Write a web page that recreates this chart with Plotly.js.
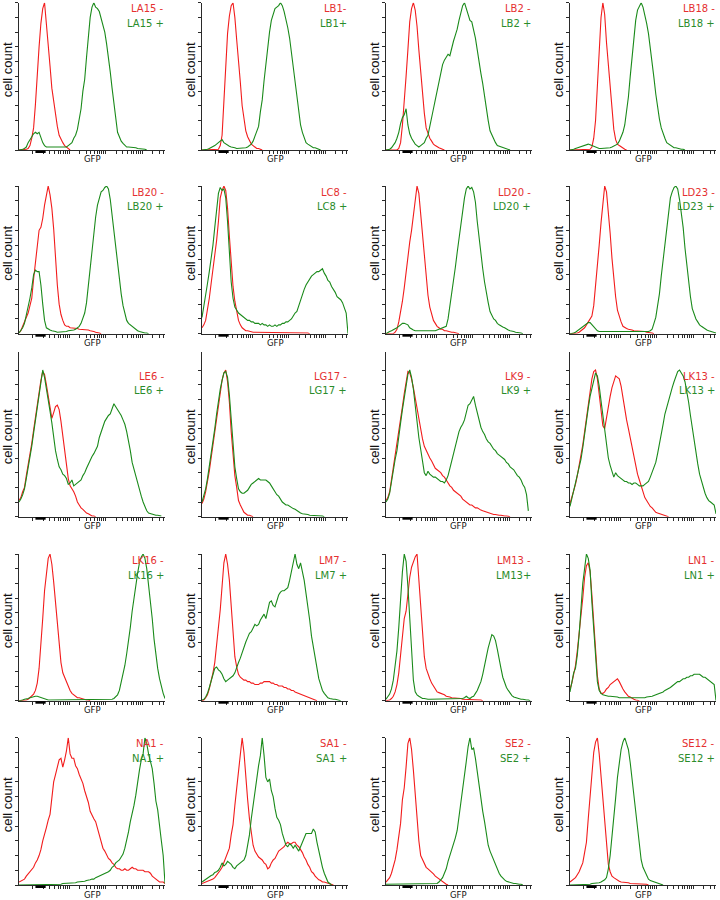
<!DOCTYPE html>
<html><head><meta charset="utf-8">
<script src="https://cdn.plot.ly/plotly-3.0.1.min.js"></script>
<style>html,body{margin:0;padding:0;background:#fff}#chart{width:720px;height:900px}</style>
</head><body><div id="chart"></div>
<script>
// GFP channel positions (decades on the log scale, 0..4)
const X = [0,0.05,0.1,0.15,0.2,0.25,0.3,0.35,0.4,0.45,0.5,0.55,0.6,0.65,0.7,0.75,0.8,0.85,0.9,0.95,1,1.05,1.1,1.15,1.2,1.25,1.3,1.35,1.4,1.45,1.5,1.55,1.6,1.65,1.7,1.75,1.8,1.85,1.9,1.95,2,2.05,2.1,2.15,2.2,2.25,2.3,2.35,2.4,2.45,2.5,2.55,2.6,2.65,2.7,2.75,2.8,2.85,2.9,2.95,3,3.05,3.1,3.15,3.2,3.25,3.3,3.35,3.4,3.45,3.5,3.55,3.6,3.65,3.7,3.75,3.8,3.85,3.9,3.95,4];

const negLabels = ['LA15 -','LB1-','LB2 -','LB18 -','LB20 -','LC8 -','LD20 -','LD23 -','LE6 -','LG17 -','LK9 -','LK13 -','LK16 -','LM7 -','LM13 -','LN1 -','NA1 -','SA1 -','SE2 -','SE12 -'];
const posLabels = ['LA15 +','LB1+','LB2 +','LB18 +','LB20 +','LC8 +','LD20 +','LD23 +','LE6 +','LG17 +','LK9 +','LK13 +','LK16 +','LM7 +','LM13+','LN1 +','NA1 +','SA1 +','SE2 +','SE12 +'];

const yTicks = [0,10,20,30,40,50,60,70,80,90,100];
const xTicks = [0.37,0.671,0.847,0.972,1.069,1.148,1.215,1.273,1.324,
                1.37,1.671,1.847,1.972,2.069,2.148,2.215,2.273,2.324,
                2.37,2.671,2.847,2.972,3.069,3.148,3.215,3.273,3.324,
                3.37,3.671,3.847,3.972];
const gateBar = [0.45, 0.73];

// cell counts (% of max), one value per channel position
const la15Neg = [0,0,0,0,0.5,1,3,8,15,31,53,70,86,96,100,87,71,57,42,32,23,16,10,7,5,3,2,1,0];
const la15Pos = [0,0,0.5,1,2,5,7,9,11,12,11,12,8,5,3,2,2,2,1.5,2,2,1.5,1.5,1.5,2,2,2,3,4,5,8,10,14,22,28,40,48,63,77,90,97,100,97,96,94,89,85,80,72,64,53,42,31,20,12,9,6,4.5,3,2,2,2,2,1.5,1.5,1,1,1,0.5,0.5,0];
const lb1Neg = [0,0,0,0,0,0,0,0,0,0.5,3,10,33,58,79,91,98,100,90,75,62,46,30,20,13,9,6,4,3,2,1,1,0.5,0];
const lb1Pos = [0,0,0,0.5,1,1.5,2,3,4,5,6,7,5,4,3,2.5,2,2,1.5,1,1,1,1,1,1.5,2,3,4,6,9,12,16,26,34,47,59,72,80,88,93,96,97,98,100,98,94,89,83,76,66,56,45,34,25,17,12,8,5,4,3,2,1.5,1.5,1,0.5,0];
const lb2Neg = [0,0,0,0,0,0,0,1,5,17,31,50,68,87,96,100,95,84,68,52,38,25,15,11,8,6,4,3,2,1.5,1,0.5,0];
const lb2Pos = [0,0,0.5,1.5,3,5,8,12,18,22,24,28,17,11,8,6,4,3,2,3,4,5,8,10,16,21,28,34,40,47,53,58,61,63,65,64,70,74,78,82,88,93,98,100,96,92,88,87,82,76,68,59,52,45,36,27,20,13,10,7,5,3,2.5,2,1.5,1,1,0.5,0];
const lb18Neg = [0,0,0,0,0,0,0,0,0,0,0,0.5,2,8,20,42,65,90,100,92,73,57,40,25,14,7,4,3,2,1,0.5,0];
const lb18Pos = [0,0,0.5,1,1.5,2,2,3,3.5,4,4,3.5,3,2,1.5,1,1,1,1,1,1,1,1.5,2,2.5,3,4,6,9,12,17,25,36,50,64,77,88,95,98,100,97,92,86,79,70,59,49,38,29,21,15,11,8,5,4,3,2,1.5,1.5,1,1,0.5,0.5,0];
const lb20Neg = [0.5,2,5,8,11,14,19,24,37,49,62,70,72,78,87,93,100,94,85,71,49,33,20,13,9,6,5,5,4,4,4,3.5,3.5,3,3,3,3,3,2.5,2,2,1.5,1,1,0.5,0];
const lb20Pos = [0.5,2,4,7,12,17,24,31,40,43,42,42,33,20,9,4,3,2.5,2,2,1.5,1,1,1,1,1.5,1.5,2,2,2,2.5,3,4,5,7,10,14,21,33,46,58,69,79,87,92,96,97,99,100,98,91,80,70,58,45,36,27,19,13,9,7,6,5,3.5,2.5,2,1.5,1,1,0.5,0.5,0];
const lc8Neg = [4,6,9,16,24,34,43,53,63,76,92,97,100,97,85,66,45,32,22,14,9,6,4,3,2,2,1.5,1.5,1,1,1,1,1,1,1,1,1,0.5,0.5,0.5,0.5,0.5,0.5,0.5,0.5,0.5,0.5,0.5,0.5,0.5,0.5,0.5,0.5,0.5,0.5,0.5,0.5,0.5,0.5,0];
const lc8Pos = [11,18,27,34,42,50,60,72,82,95,99,97,98,92,76,55,35,24,18,16,14,13,12,11,10,9,9,8,8,7,7,7,6,7,6,6,5,6,5,5,6,5,6,6,7,7,8,8,9,10,12,14,15,19,23,27,30,33,35,37,39,40,41,42,42,43,44,41,39,36,35,32,30,28,25,24,23,21,17,14,0];
const ld20Neg = [0,0,0,0,0,1,3,8,14,22,31,42,52,62,70,80,90,100,95,82,67,52,38,26,18,13,9,7,5,4,3,3,2,2,1.5,1.5,1,1,0.5,0.5,0];
const ld20Pos = [0,1,1.5,2,2.5,3,4,5,6,7,7,6.5,6,4,3,2.5,2,2,1.5,1.5,1.5,1.5,2,2,2,2,2,2,2.5,3,3,3.5,4,5,10,18,26,35,45,55,64,74,85,92,98,100,98,99,96,89,76,64,54,44,35,27,21,15,12,10,9,7,6,5,4.5,4,3,2.5,2,2,1.5,1,1,0.5,0.5,0];
const ld23Neg = [0,0,0,0,0.5,1,2,3,4,6,8,10,12,19,31,45,60,75,88,100,96,84,68,51,37,25,16,11,8,5,4,3.5,3,3,2.5,2,2,2,1.5,1.5,1.5,1.5,1,1,0.5,0.5,0];
const ld23Pos = [0,0,0.5,1,2,2.5,3.5,4.5,6,7,7.5,7.5,6,4.5,3,2,1.5,1.5,1,1,1,1,1,1,1,1,1,1,1,1,1,1,1,1,1,1,1,1,1,1,1,1,1,1.5,2,3,7,11,19,27,39,49,62,72,83,92,96,99,100,98,91,82,72,58,46,34,25,17,13,10,8,6,5,4,3,2.5,2,1.5,1,0.5,0.5];
const le6Neg = [11,13,17,20,28,35,42,50,59,68,77,86,93,99,97,90,82,73,67,71,75,76,73,65,55,46,34,26,21,19,17,14,10,8,6,5,3.5,2.5,2,1,0.5,0.5,0];
const le6Pos = [10,12,15,19,26,33,40,48,57,66,75,84,94,100,95,88,80,72,64,54,45,39,34,32,29,28,26,22,23,25,21,22,23,24,25,28,30,33,36,39,41,43,46,48,54,58,62,65,67,69,70,73,77,75,73,71,69,66,63,58,52,45,37,32,27,22,18,14,10,7,4,2.5,2,1.5,1.5,1,1,0.5,0.5];
const lg17Neg = [9,12,17,23,31,40,49,58,68,78,86,93,98,100,92,78,58,42,28,20,11,8,5,3,2,1,1,0.5,0];
const lg17Pos = [10,14,19,26,34,42,51,60,70,79,87,93,98,99,95,83,65,48,34,26,19,17,16,16,17,18,20,22,23,24,25,26,25,25,25,25,24,23,21,19,17,15,14,12,10,9,8,8,7,6,5.5,5,4,3,2.5,2,2,1.5,1.5,1,1,1,0.5,0.5,0.5,0.5,0.5,0];
const lk9Neg = [11,13,17,25,35,42,49,56,65,75,84,93,99,98,94,88,81,72,65,58,53,48,45,43,40,38,35,33,32,31,30,28,27,25,23,21,20,18,17,16,15,14,12,11,10,9,8,8,7,6,6,5,4.5,4,3.5,3,2.5,2,2,1.5,1.5,1,1,1,0.5,0.5,0.5,0.5,0];
const lk9Pos = [10,12,16,24,33,39,45,53,64,73,82,91,97,100,95,87,75,65,54,46,39,30,28,31,29,28,27,27,26,25,24,24,23,25,28,33,38,43,48,54,58,61,63,66,72,76,77,80,82,76,71,65,61,58,56,53,51,50,48,46,45,43,42,41,40,39,37,36,34,33,32,30,28,27,25,22,20,15,4];
const lk13Neg = [9,13,18,22,28,34,42,49,58,67,78,88,94,99,100,94,84,72,62,60,68,75,82,88,93,96,95,94,89,81,72,66,60,54,47,41,34,29,25,21,18,13,11,9,7,6,4.5,3,2.5,2,2,1.5,1,0.5,0];
const lk13Pos = [7,12,18,22,27,32,39,47,57,66,74,82,88,94,98,96,89,79,69,59,48,40,35,31,27,30,28,27,26,25,24,24,23,23,22,23,23,22,21,21,21,22,23,24,27,30,33,37,43,49,56,63,70,75,80,84,88,92,96,99,100,98,96,92,86,78,69,60,52,43,36,29,24,20,16,13,11,10,9,8,2];
const lk16Neg = [0,0,0,0,0.5,1,2,3,4.5,7,12,22,37,56,75,88,97,100,93,81,67,51,37,26,19,16,12,10,7,5,4,3,2,2,1.5,1,0.5,0.5,0.5,0];
const lk16Pos = [0,0,0.5,1,1,1.5,2,2.5,3,3,3,2.5,2,1.5,1,1,0.5,0.5,0.5,0.5,0.5,0.5,0.5,0.5,0.5,0.5,0.5,0.5,0.5,0.5,0.5,0.5,0.5,0.5,0.5,0.5,0.5,0.5,0.5,0.5,0.5,0.5,0.5,0.5,0.5,0.5,0.5,0.5,0.5,0.5,1,1,1.5,2.5,4,7,12,18,24,32,40,50,61,70,80,87,94,98,100,97,90,80,68,56,42,31,22,15,9,5,1.5];
const lm7Neg = [0,0.5,2,4,8,13,19,26,37,48,62,78,94,100,93,82,63,46,30,23,18,16,15,14,14,13,13,12,12,11,11,11,12,12,13,13,13,13,12,12,11,11,10,10,10,9,9,8,8,7,7,6,5.5,5,4.5,4,3,2.5,2,1.5,1,0.5,0.5,0];
const lm7Pos = [0.5,1,2.5,5,9,13,18,22,23,21,20,18,15,13,14,15,16,17,19,23,26,29,33,37,40,43,46,47,50,52,51,52,55,57,59,56,62,67,68,65,64,68,72,74,75,75,76,77,82,88,92,100,93,90,94,88,82,73,65,55,44,36,28,20,15,11,7,5,3.5,2,1.5,1,1,1,0.5,0.5,0];
const lm13Neg = [0,0,0.5,1.5,3,6,11,19,31,43,56,61,74,84,91,95,98,100,82,62,44,30,22,18,15,12,10,8,6,5.5,5,5,4,3,3,2.5,2,2,2,1.5,1.5,1.5,1,1,1,1,1,1,1,0.5,0.5,0.5,0.5,0];
const lm13Pos = [1,2.5,4.5,8,14,24,34,50,73,88,100,95,78,57,30,14,6,4,3,2,1.5,1.5,1,1,1,1,1,1,1,1,1,1,1,1,1,1,1,1,1.5,1.5,1.5,1.5,1.5,2,3,2,1.5,2.5,3,5,7,10,13,18,23,30,36,41,45,44,41,35,27,22,16,12,9,7,5,3.5,2.5,2,1.5,1.5,1,1,0.5,0.5,0.5,0];
const ln1Neg = [8,12,18,24,34,45,58,70,84,92,94,88,72,52,33,17,8,5,5,6,8,9,11,12,13,14,15,13,10,8,6,4.5,3,2.5,1.5,1,0.5,0.5,0];
const ln1Pos = [6,12,19,22,31,45,65,80,90,100,97,89,67,47,27,13,7,5,4,3.5,3,3,3,3,2.5,2.5,2.5,2,2,2,2,2,1.5,1.5,1.5,1.5,1.5,1.5,1.5,2,2,2,2.5,2.5,3,3,3.5,4,4,4.5,5,6,7,7.5,8,9,10,11,12,13,13,14,15,15,16,16,17,17,18,18,18,18,17,16,16,15,14,13,12,11,0];
const na1Neg = [2,2.5,3,4,6,7.5,9,11,12,15,17,20,24,30,34,39,44,48,59,70,75,80,85,86,80,85,91,100,89,86,86,81,79,75,72,69,64,60,56,50,47,45,43,38,34,28,25,23,20,18,17,15,14,12,11,11,10,10,11,10,10,11,12,11,11,10,10,10,10,9,9,9,8,6,5,4,3,2,2,2,1];
const na1Pos = [0,0,0,0,0,0,0,0,0,0,0,0,0,0,0,0,0,0,0.5,0.5,0.5,0.5,0.5,0.5,1,1,1,1,1.5,1.5,1.5,1.5,2,2,2,2.5,2.5,3,3,3.5,4,4,5,5.5,6,6.5,7,7.5,8,9,10,12,13,15,16,17,19,21,25,30,36,43,48,54,61,71,78,85,89,100,96,89,83,79,69,57,51,42,30,20,1];
const sa1Neg = [1,1.5,2,2,2.5,3,4,5,6.5,8,10,12,15,18,21,25,34,41,54,66,78,89,100,90,72,58,45,34,27,23,21,19,18,17,15,14,11,12,15,17,18,21,23,24,25,26,28,29,28,28,29,29,27,26,24,22,19,17,14,12,9,8,6,4.5,3.5,3,2,2,1.5,1,0.5,0.5,0];
const sa1Pos = [2,3,4,4.5,6,6.5,7,8.5,9,10,12,15,13,14,16,15,14,12,11,13,14,15,16,17,20,26,34,45,54,65,75,81,88,100,88,73,70,72,64,60,52,46,44,41,35,30,27,26,28,27,25,27,25,23,26,29,33,35,35,35,35,38,36,29,23,16,12,8,4.5,2,1,0];
const se2Neg = [2,3.5,5,8,12,17,24,32,42,58,66,80,96,100,92,78,61,42,30,20,17,14,12,11,10,9,7.5,6,5,4,3,2,1,0.5,0];
const se2Pos = [0.5,0.5,0.5,0.5,0.5,0.5,0.5,0.5,0.5,0.5,0.5,0.5,0.5,0.5,0.5,0.5,0.5,0.5,0.5,0.5,0.5,0.5,0.5,0.5,0.5,0.5,0.5,0.5,1,2,3.5,5,8,11,16,20,23,27,32,37,46,54,64,72,84,94,100,92,93,86,77,66,59,50,43,36,27,23,20,16,13,11,8,6,4.5,3.5,2.5,2,2,1.5,1,1,0.5,0.5,0.5,0];
const se12Neg = [2,3,4,5,7,9,12,15,22,29,45,62,78,90,97,100,89,74,57,40,25,14,9,6,5,4,3,2.5,2,2,1.5,1.5,1.5,1,1,1,0.5,0.5,0.5,0.5,0.5,0.5,0.5,0];
const se12Pos = [0,0,0,0,0,0,0,0,0,0,0.5,0.5,1,1,1,1,1.5,2,2.5,3.5,5,11,20,32,45,59,73,84,92,97,100,96,92,83,72,60,48,37,26,17,12,9,6,4,3,2.5,2,1.5,1,0.5,0.5,0];

const panelData = [
  [la15Neg, la15Pos],[lb1Neg, lb1Pos],[lb2Neg, lb2Pos],[lb18Neg, lb18Pos],
  [lb20Neg, lb20Pos],[lc8Neg, lc8Pos],[ld20Neg, ld20Pos],[ld23Neg, ld23Pos],
  [le6Neg, le6Pos],[lg17Neg, lg17Pos],[lk9Neg, lk9Pos],[lk13Neg, lk13Pos],
  [lk16Neg, lk16Pos],[lm7Neg, lm7Pos],[lm13Neg, lm13Pos],[ln1Neg, ln1Pos],
  [na1Neg, na1Pos],[sa1Neg, sa1Pos],[se2Neg, se2Pos],[se12Neg, se12Pos]
];

// layout geometry (pixels)
const W = 720, H = 900;
const colLeft = [19, 202, 386, 570], colRight = [165, 348, 532, 716];
const rowTop = [2.7, 186, 370, 554, 737.7], rowBottom = [150, 333.7, 516.7, 700.7, 885];
const rowAxisTop = [2.7, 186, 352, 554, 737.7];
const RED = '#f21c1c', GREEN = '#1a8a1a', AXIS = '#2a2a2a';
const RED_TXT = '#e53030', GREEN_TXT = '#2a8c2a';

const traces = [], shapes = [], annotations = [];
const layout = {
  width: W, height: H, margin: {l:0, r:0, t:0, b:0},
  paper_bgcolor: '#fff', plot_bgcolor: 'rgba(0,0,0,0)', showlegend: false
};
const px = v => v / W, py = v => 1 - v / H;

for (let i = 0; i < panelData.length; i++) {
  const r = Math.floor(i / 4), c = i % 4, n = i + 1;
  const sfx = n === 1 ? '' : String(n);
  const xa = 'x' + sfx, ya = 'y' + sfx;
  const yMax = 100 * (rowBottom[r] - rowAxisTop[r]) / (rowBottom[r] - rowTop[r]);
  layout['xaxis' + sfx] = {
    domain: [px(colLeft[c]), px(colRight[c])], range: [0, 4], anchor: ya,
    showline: true, linecolor: AXIS, linewidth: 1, mirror: false,
    ticks: 'outside', ticklen: 3, tickwidth: 1, tickcolor: AXIS,
    tickmode: 'array', tickvals: xTicks, showticklabels: false,
    showgrid: false, zeroline: false, fixedrange: true
  };
  layout['yaxis' + sfx] = {
    domain: [py(rowBottom[r]), py(rowAxisTop[r])], range: [0, yMax], anchor: xa,
    showline: true, linecolor: AXIS, linewidth: 1,
    ticks: 'outside', ticklen: 3, tickwidth: 1, tickcolor: AXIS,
    tickmode: 'array', tickvals: yTicks, showticklabels: false,
    showgrid: false, zeroline: false, fixedrange: true
  };
  const [neg, pos] = panelData[i];
  traces.push({x: X.slice(0, neg.length), y: neg, xaxis: xa, yaxis: ya, type: 'scatter', mode: 'lines',
    line: {color: RED, width: 1.1}, cliponaxis: false, hoverinfo: 'skip'});
  traces.push({x: X.slice(0, pos.length), y: pos, xaxis: xa, yaxis: ya, type: 'scatter', mode: 'lines',
    line: {color: GREEN, width: 1.1}, cliponaxis: false, hoverinfo: 'skip'});
  shapes.push({type: 'rect', xref: xa, yref: 'paper', x0: gateBar[0], x1: gateBar[1],
    y0: py(rowBottom[r] + 3), y1: py(rowBottom[r] + 0.5), fillcolor: '#000', line: {width: 0}});
  annotations.push({text: negLabels[i], xref: 'paper', yref: 'paper', x: px(colRight[c] + 0.5), y: py(rowTop[r] + 6),
    xanchor: 'right', yanchor: 'middle', showarrow: false, font: {family: 'DejaVu Sans', size: 10, color: RED_TXT}});
  annotations.push({text: posLabels[i], xref: 'paper', yref: 'paper', x: px(colRight[c] + 0.5), y: py(rowTop[r] + 21),
    xanchor: 'right', yanchor: 'middle', showarrow: false, font: {family: 'DejaVu Sans', size: 10, color: GREEN_TXT}});
  annotations.push({text: 'cell count', xref: 'paper', yref: 'paper', x: px(colLeft[c] - 11.5),
    y: py((rowTop[r] + rowBottom[r]) / 2 - 6.5), textangle: -90, xanchor: 'center', yanchor: 'middle',
    showarrow: false, font: {family: 'Liberation Sans', size: 13, color: '#111'}});
  annotations.push({text: 'GFP', xref: 'paper', yref: 'paper', x: px((colLeft[c] + colRight[c]) / 2),
    y: py(rowBottom[r] + 9.5), xanchor: 'center', yanchor: 'middle', showarrow: false,
    font: {family: 'DejaVu Sans', size: 8.5, color: '#111'}});
}
layout.shapes = shapes;
layout.annotations = annotations;
Plotly.newPlot('chart', traces, layout, {staticPlot: true, displayModeBar: false});
</script></body></html>
